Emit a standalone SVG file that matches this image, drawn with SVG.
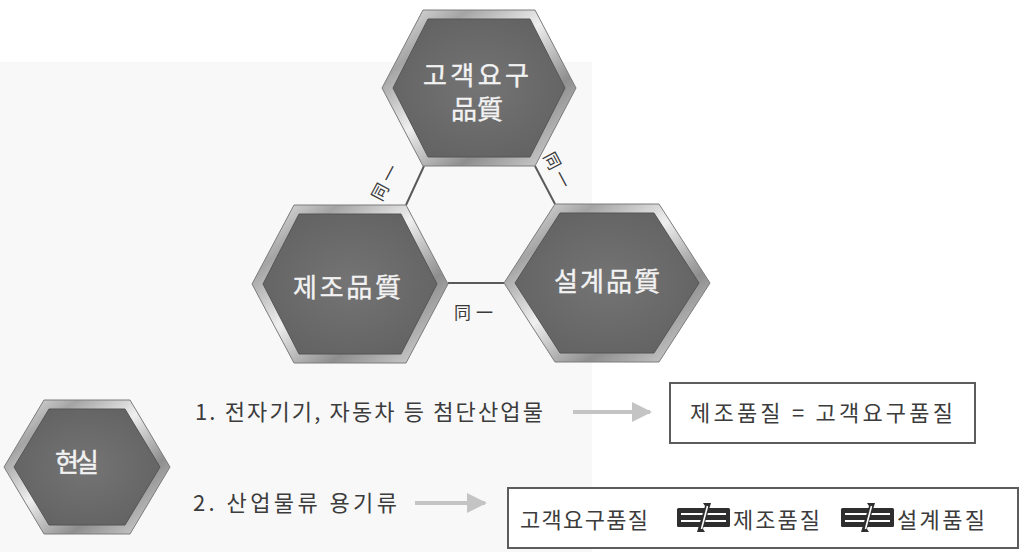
<svg xmlns="http://www.w3.org/2000/svg" width="1022" height="552" viewBox="0 0 1022 552">
<defs>
<linearGradient id="metal" x1="0" y1="0" x2="1" y2="1">
<stop offset="0" stop-color="#f2f2f2"/>
<stop offset="0.22" stop-color="#a4a4a4"/>
<stop offset="0.45" stop-color="#efefef"/>
<stop offset="0.7" stop-color="#8e8e8e"/>
<stop offset="1" stop-color="#e2e2e2"/>
</linearGradient>
<radialGradient id="core" cx="0.5" cy="0.5" r="0.6">
<stop offset="0" stop-color="#747474"/>
<stop offset="1" stop-color="#626262"/>
</radialGradient>
<marker id="ah" viewBox="0 0 10 10" refX="9" refY="5" markerWidth="5.5" markerHeight="5" orient="auto" markerUnits="strokeWidth">
<path d="M0,0 L10,5 L0,10 Z" fill="#c4c4c4"/>
</marker>
<g id="neq">
<rect x="0" y="5" width="53" height="19" rx="1.5" fill="#2e2e2e"/>
<line x1="4" y1="11" x2="49" y2="11" stroke="#ffffff" stroke-width="2.2"/>
<line x1="4" y1="18" x2="49" y2="18" stroke="#ffffff" stroke-width="2.2"/>
<polygon points="20,29 28,29 26,26 34,0 26,0 28,3" fill="#2e2e2e"/>
<line x1="24.5" y1="26" x2="30.5" y2="3" stroke="#ffffff" stroke-width="1.6"/>
</g>
<style>
.frame{fill:url(#metal);stroke:#7c7c7c;stroke-width:1}
.core{fill:url(#core);stroke:#555555;stroke-width:1}
.htxt{font-family:"Noto Sans CJK KR","Noto Sans CJK SC",sans-serif;fill:#f2f2f2;text-anchor:middle;font-size:26px;stroke:#f2f2f2;stroke-width:0.4}
.lbl{font-family:"Noto Sans CJK KR","Noto Sans CJK SC",sans-serif;fill:#3a3a3a;text-anchor:middle;font-size:17px}
.row{font-family:"Noto Sans CJK KR",sans-serif;fill:#3c3c3c;font-size:22px}
.conn{stroke:#5a5a5a;stroke-width:2;fill:none}
.arrow{stroke:#c4c4c4;stroke-width:4;fill:none}
.box{fill:#ffffff;stroke:#5c5c5c;stroke-width:2}
</style>
</defs>
<rect x="0" y="0" width="1022" height="552" fill="#ffffff"/>
<rect x="0" y="62" width="592" height="490" fill="#f8f8f8"/>

<g id="connectors">
<line class="conn" x1="424" y1="166" x2="406" y2="205"/>
<line class="conn" x1="535" y1="166" x2="555" y2="204"/>
<line class="conn" x1="448" y1="283" x2="504" y2="283"/>
<text class="lbl" transform="translate(386,181) rotate(-62)" y="6" letter-spacing="4">同一</text>
<text class="lbl" transform="translate(558,172) rotate(62)" y="6" letter-spacing="4">同一</text>
<text class="lbl" x="476" y="319" letter-spacing="5">同一</text>
</g>

<g id="node-customer">
<polygon class="frame" points="382,88 423,10 535,10 576,88 535,166 423,166"/>
<polygon class="core" points="393,88 428,19 530,19 565,88 530,157 428,157"/>
<text class="htxt" x="476" y="85" textLength="106" lengthAdjust="spacing">고객요구</text>
<text class="htxt" x="477" y="119" font-size="25">品質</text>
</g>

<g id="node-manufacture">
<polygon class="frame" points="252,284 294,205 406,205 448,284 406,363 294,363"/>
<polygon class="core" points="263,284 299,214 401,214 437,284 401,354 299,354"/>
<text class="htxt" x="347" y="297" textLength="108" lengthAdjust="spacing">제조品質</text>
</g>

<g id="node-design">
<polygon class="frame" points="504,283 555,204 659,204 710,283 659,362 555,362"/>
<polygon class="core" points="515,283 560,213 654,213 699,283 654,353 560,353"/>
<text class="htxt" x="607" y="291" textLength="106" lengthAdjust="spacing">설계品質</text>
</g>

<g id="node-reality">
<polygon class="frame" points="4,467 44,400 130,400 170,467 130,534 44,534"/>
<polygon class="core" points="14,467 49,409 125,409 160,467 125,525 49,525"/>
<text class="htxt" x="77" y="472" font-size="25" textLength="44" lengthAdjust="spacing">현실</text>
</g>

<g id="row1">
<text class="row" x="195" y="420" textLength="348" lengthAdjust="spacing">1. 전자기기, 자동차 등 첨단산업물</text>
<line class="arrow" x1="573" y1="412" x2="650" y2="412" marker-end="url(#ah)"/>
<rect class="box" x="670" y="383" width="305" height="60"/>
<text class="row" x="690" y="421" textLength="263" lengthAdjust="spacing">제조품질 = 고객요구품질</text>
</g>

<g id="row2">
<text class="row" x="193" y="511" textLength="204" lengthAdjust="spacing">2. 산업물류 용기류</text>
<line class="arrow" x1="415" y1="503" x2="485" y2="503" marker-end="url(#ah)"/>
<rect class="box" x="508" y="488" width="510" height="60"/>
<text class="row" x="520" y="528" textLength="128" lengthAdjust="spacing">고객요구품질</text>
<use href="#neq" x="677" y="503"/>
<text class="row" x="733" y="528" textLength="87" lengthAdjust="spacing">제조품질</text>
<use href="#neq" x="841" y="503"/>
<text class="row" x="897" y="528" textLength="88" lengthAdjust="spacing">설계품질</text>
</g>
</svg>
